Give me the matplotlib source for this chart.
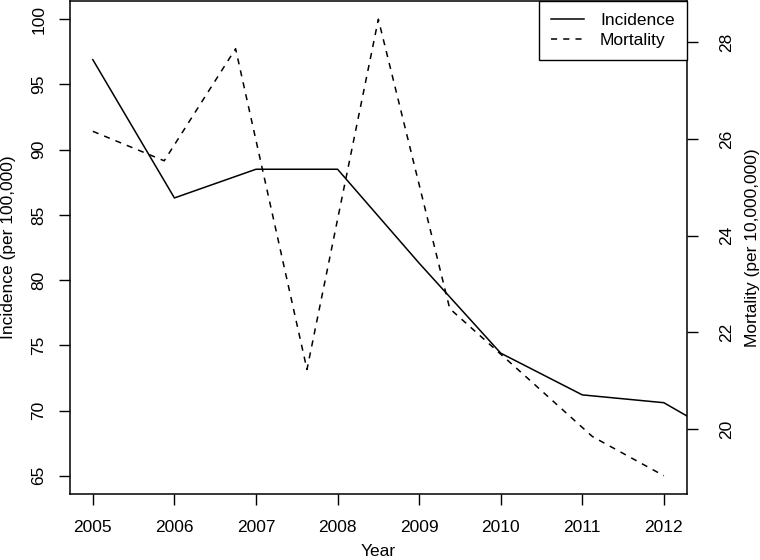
import matplotlib
matplotlib.use("Agg")
import matplotlib.pyplot as plt

plt.rcParams["font.family"] = ["Liberation Sans", "DejaVu Sans"]
plt.rcParams["font.size"] = 12.5

# data
years = [2005, 2006, 2007, 2008, 2009, 2010, 2011, 2012, 2013]
incidence = [96.9, 86.3, 88.5, 88.5, 81.3, 74.4, 71.2, 70.6, 67.0]
# mortality drawn on its own index scale (second plot laid over the first)
mortality = [26.16, 25.55, 27.87, 21.23, 28.48, 22.49, 21.17, 19.84, 19.03]
x_ticks = [2005, 2006, 2007, 2008, 2009, 2010, 2011, 2012]
left_ticks = [65, 70, 75, 80, 85, 90, 95, 100]
right_ticks = [20, 22, 24, 26, 28]


def r_lim(lo, hi):
    pad = (hi - lo) * 0.04
    return lo - pad, hi + pad


fig = plt.figure(figsize=(7.6, 5.6), dpi=100)
pos = [70 / 760, 66 / 560, 616.7 / 760, 493 / 560]

ax1 = fig.add_axes(pos)
line1, = ax1.plot(years, incidence, color="black", lw=1.1, label="Incidence")
ax1.set_xlim(*r_lim(2005, 2012))
ax1.set_ylim(*r_lim(65, 100))
ax1.set_xticks(x_ticks)
ax1.set_yticks(left_ticks)
ax1.set_yticklabels([str(t) for t in left_ticks], rotation=90, va="center")
ax1.tick_params(length=8, width=1, colors="black")
ax1.tick_params(axis="x", pad=11)
ax1.tick_params(axis="y", pad=9)
for s in ax1.spines.values():
    s.set_linewidth(1.1)
ax1.set_xlabel("Year", labelpad=6)
ax1.set_ylabel("Incidence (per 100,000)", labelpad=11)

ax2 = fig.add_axes(pos, frameon=False)
idx = list(range(1, len(mortality) + 1))
line2, = ax2.plot(idx, mortality, color="black", lw=1.1, dashes=(4, 4), label="Mortality")
ax2.set_xlim(*r_lim(1, len(mortality)))
ax2.set_ylim(*r_lim(min(mortality), max(mortality)))
ax2.set_xticks([])
ax2.yaxis.tick_right()
ax2.yaxis.set_label_position("right")
ax2.set_yticks(right_ticks)
ax2.set_yticklabels([str(t) for t in right_ticks], rotation=90, va="center")
ax2.tick_params(length=8, width=1, pad=15, colors="black")
ax2.set_ylabel("Mortality (per 10,000,000)", labelpad=8)

leg = ax2.legend(handles=[line1, line2], loc="upper right", bbox_to_anchor=(1, 1),
                 borderaxespad=0, fancybox=False, edgecolor="black",
                 handlelength=1.9, handletextpad=0.9, labelspacing=0.25,
                 borderpad=0.7, framealpha=1)
leg.get_frame().set_linewidth(1.0)

fig.savefig("out.png", dpi=100)
